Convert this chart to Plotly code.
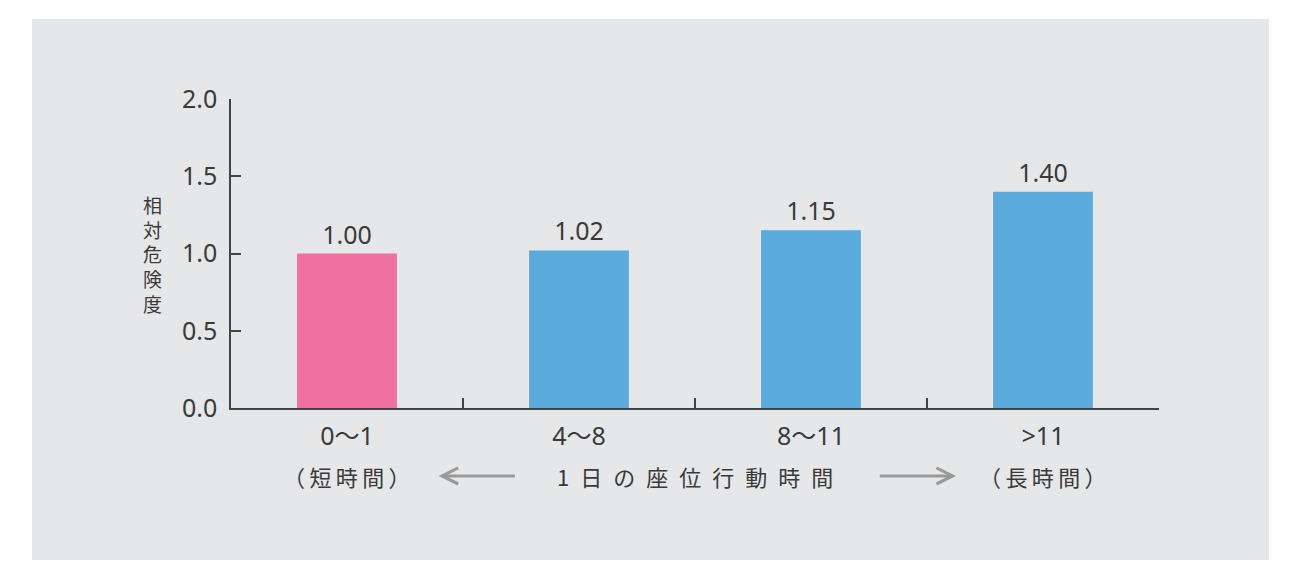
import plotly.graph_objects as go

categories = ["0〜1", "4〜8", "8〜11", ">11"]
risk = [1.00, 1.02, 1.15, 1.40]
bar_colors = ["#F0719E", "#5BAADE", "#5BAADE", "#5BAADE"]
y_ticks = [0.0, 0.5, 1.0, 1.5, 2.0]
y_title = "相対危険度"
short_label = "（\u2009短\u2009時\u2009間\u2009）"
long_label = "（\u2009長\u2009時\u2009間\u2009）"
x_title = "\u2002".join("1日の座位行動時間")

NUM_FONT = "Noto Sans, Noto Sans CJK JP"
JP_FONT = "Noto Sans CJK JP"
TEXT = "#3a3a3a"
PANEL = "#E6E7E8"
N = len(categories)


def cat_to_frac(i):
    # category index -> fraction of the x axis domain
    return (i + 0.5) / N


fig = go.Figure()
fig.add_trace(go.Bar(
    x=categories, y=risk,
    marker=dict(color=bar_colors, line=dict(width=0)),
    width=0.43,
    text=[f"{v:.2f}" for v in risk], textposition="outside",
    textfont=dict(family=NUM_FONT, size=25, color=TEXT),
    cliponaxis=False, hoverinfo="skip"
))

# grey panel behind the chart
fig.add_shape(type="rect", xref="paper", yref="paper",
              x0=-0.2144, x1=1.1185, y0=-0.4919, y1=1.2589,
              fillcolor=PANEL, line=dict(width=0), layer="below")

# vertical y-axis title
fig.add_annotation(text="<br>".join(y_title), xref="paper", yref="paper",
                   x=-0.085, y=0.5, xanchor="center", yanchor="middle",
                   showarrow=False, font=dict(family=JP_FONT, size=19, color=TEXT))

# bottom row (below the axis, in axis-domain coordinates)
row_y = -0.22
jp = dict(family=JP_FONT, size=22, color=TEXT)
for label, pos in [(short_label, 0), (x_title, 1.5), (long_label, 3)]:
    fig.add_annotation(text=label, x=cat_to_frac(pos), y=row_y,
                       xref="x domain", yref="y domain",
                       xanchor="center", yanchor="middle",
                       showarrow=False, font=jp)
for head, tail in [(0.395, 0.73), (2.625, 2.29)]:
    fig.add_annotation(text="", x=cat_to_frac(head), y=row_y,
                       ax=cat_to_frac(tail), ay=row_y,
                       xref="x domain", yref="y domain",
                       axref="x domain", ayref="y domain",
                       showarrow=True, arrowhead=5, arrowsize=1.05,
                       arrowwidth=3, arrowcolor="#999999")

fig.update_layout(
    width=1302, height=588,
    paper_bgcolor="white", plot_bgcolor=PANEL,
    margin=dict(l=223, r=151, t=91, b=188),
    showlegend=False, bargap=0.57,
    xaxis=dict(
        type="category", tickson="boundaries", ticks="inside", ticklen=10,
        tickwidth=1.5, tickcolor="#444", showline=True, linecolor="#444",
        linewidth=1.5, showgrid=False, zeroline=False, ticklabelstandoff=5,
        tickfont=dict(family=NUM_FONT, size=25, color=TEXT),
        range=[-0.5, 3.5]
    ),
    yaxis=dict(
        range=[0, 2.0], tickvals=y_ticks, ticktext=[f"{v:.1f}" for v in y_ticks],
        ticks="inside", ticklen=10, tickwidth=1.5, tickcolor="#444",
        showline=True, linecolor="#444", linewidth=1.5, showgrid=False,
        zeroline=False, ticklabelstandoff=7,
        tickfont=dict(family=NUM_FONT, size=25, color=TEXT)
    ),
)

fig.write_html("out.html")
